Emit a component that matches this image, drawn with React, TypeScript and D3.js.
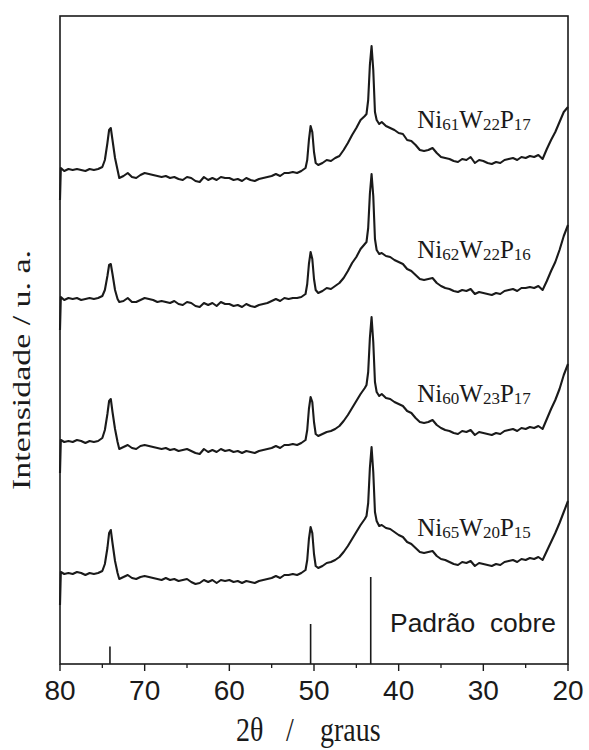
import React from "react";
import * as d3 from "d3";

// 2θ grid (degrees)
const twoTheta = [
  80.0, 79.9, 79.5, 79.0, 78.5, 78.0, 77.5, 77.0, 76.5, 76.0,
  75.5, 75.0, 74.7, 74.4, 74.2, 74.0, 73.8, 73.5, 73.2, 73.0,
  72.5, 72.0, 71.5, 71.0, 70.5, 70.0, 69.5, 69.0, 68.5, 68.0,
  67.5, 67.0, 66.5, 66.0, 65.5, 65.0, 64.5, 64.0, 63.5, 63.0,
  62.5, 62.0, 61.5, 61.0, 60.5, 60.0, 59.5, 59.0, 58.5, 58.0,
  57.5, 57.0, 56.5, 56.0, 55.5, 55.0, 54.5, 54.0, 53.5, 53.0,
  52.5, 52.0, 51.5, 51.0, 50.8, 50.6, 50.4, 50.2, 50.0, 49.8,
  49.5, 49.0, 48.5, 48.0, 47.5, 47.0, 46.5, 46.0, 45.5, 45.0,
  44.5, 44.0, 43.8, 43.6, 43.4, 43.2, 43.0, 42.8, 42.6, 42.3,
  42.0, 41.5, 41.0, 40.5, 40.0, 39.5, 39.0, 38.5, 38.0, 37.5,
  37.0, 36.5, 36.0, 35.5, 35.0, 34.5, 34.0, 33.5, 33.0, 32.5,
  32.0, 31.5, 31.0, 30.5, 30.0, 29.5, 29.0, 28.5, 28.0, 27.5,
  27.0, 26.5, 26.0, 25.5, 25.0, 24.5, 24.0, 23.5, 23.0, 22.5,
  22.0, 21.5, 21.0, 20.5, 20.0,
];

// Intensities (a.u., stacked)
const ni61w22p17 = [
  464, 496, 493, 495, 494, 495, 494, 493, 495, 494,
  495, 497, 504, 521, 534, 536, 524, 506, 494, 486,
  488, 491, 487, 486, 489, 491, 490, 489, 488, 487,
  488, 486, 487, 485, 484, 487, 486, 483, 482, 487,
  484, 486, 484, 487, 486, 486, 484, 485, 483, 486,
  484, 483, 485, 486, 487, 488, 490, 488, 491, 491,
  492, 491, 493, 496, 504, 524, 538, 532, 512, 501,
  499, 501, 504, 503, 506, 508, 514, 521, 529, 536,
  544, 548, 550, 564, 599, 618, 594, 552, 544, 540,
  542, 538, 536, 534, 531, 530, 524, 523, 519, 514,
  513, 514, 516, 511, 507, 506, 505, 503, 502, 505,
  504, 507, 501, 504, 503, 501, 500, 502, 501, 504,
  505, 506, 504, 507, 506, 508, 507, 509, 505, 515,
  524, 532, 542, 552, 557,
];

const ni62w22p16 = [
  334, 367, 364, 366, 365, 366, 364, 365, 366, 365,
  366, 368, 374, 388, 399, 400, 390, 374, 365, 362,
  363, 366, 362, 362, 364, 366, 365, 364, 362, 363,
  362, 361, 363, 360, 359, 362, 361, 358, 357, 361,
  359, 361, 358, 362, 360, 360, 358, 359, 357, 360,
  358, 357, 359, 360, 361, 363, 365, 363, 366, 365,
  366, 366, 367, 370, 380, 400, 412, 405, 385, 374,
  371, 373, 376, 375, 378, 381, 386, 393, 401, 407,
  415, 420, 422, 436, 470, 490, 468, 425, 414, 410,
  411, 408, 407, 404, 402, 400, 395, 393, 389, 385,
  384, 385, 386, 381, 378, 376, 375, 373, 372, 374,
  373, 375, 370, 372, 371, 370, 369, 371, 370, 373,
  374, 375, 373, 376, 376, 377, 376, 378, 374, 383,
  393, 402, 414, 428, 439,
];

const ni60w23p17 = [
  191, 224, 222, 223, 222, 224, 223, 221, 223, 222,
  223, 226, 234, 250, 263, 265, 252, 235, 222, 215,
  217, 219, 216, 215, 218, 219, 218, 217, 216, 215,
  216, 214, 215, 213, 214, 215, 213, 211, 210, 215,
  212, 214, 212, 215, 213, 214, 212, 213, 211, 213,
  212, 211, 213, 214, 215, 216, 218, 216, 219, 219,
  220, 219, 221, 224, 234, 255, 267, 262, 242, 230,
  228, 230, 232, 233, 235, 238, 243, 249, 256, 263,
  270, 276, 279, 292, 326, 347, 322, 282, 272, 268,
  270, 266, 265, 262, 260, 258, 253, 251, 246, 242,
  241, 242, 244, 239, 236, 234, 233, 231, 230, 233,
  232, 234, 229, 232, 231, 230, 229, 231, 230, 233,
  234, 235, 233, 236, 235, 237, 236, 238, 235, 245,
  255, 264, 275, 289, 300,
];

const ni65w20p15 = [
  59, 92, 90, 91, 90, 92, 91, 89, 91, 90,
  91, 93, 100, 116, 131, 134, 121, 103, 91, 85,
  87, 89, 86, 85, 87, 88, 87, 86, 85, 84,
  86, 84, 85, 83, 84, 85, 82, 80, 81, 84,
  82, 84, 81, 84, 83, 84, 82, 83, 81, 83,
  82, 81, 83, 84, 85, 86, 88, 86, 89, 89,
  90, 89, 91, 94, 104, 125, 137, 131, 110, 98,
  96, 98, 101, 102, 104, 107, 112, 118, 125, 132,
  139, 145, 148, 161, 196, 217, 192, 152, 143, 138,
  139, 136, 135, 132, 129, 127, 122, 120, 116, 112,
  111, 112, 113, 108, 105, 104, 102, 100, 99, 102,
  101, 103, 98, 101, 100, 99, 98, 100, 99, 102,
  103, 104, 102, 105, 104, 106, 105, 107, 104, 113,
  122, 131, 141, 152, 163,
];

// Copper standard reflections
const copperTheta = [43.3, 50.4, 74.1];
const copperIntensity = [100, 46, 20];

// Series labels: [element, subscript] parts
const seriesNames = [
  [["Ni", "61"], ["W", "22"], ["P", "17"]],
  [["Ni", "62"], ["W", "22"], ["P", "16"]],
  [["Ni", "60"], ["W", "23"], ["P", "17"]],
  [["Ni", "65"], ["W", "20"], ["P", "15"]],
];
const seriesValues = [ni61w22p17, ni62w22p16, ni60w23p17, ni65w20p15];
// label anchor in data units (2θ, intensity)
const labelTheta = 37.8;
const labelIntensity = [536, 406, 262.5, 128];

const majorTicks = [80, 70, 60, 50, 40, 30, 20];
const minorTicks = [75, 65, 55, 45, 35, 25];

const W = 589;
const H = 750;
const plotLeft = 60;
const plotRight = 568;
const plotTop = 16;
const plotBottom = 664;

const serif = "'Liberation Serif', 'Times New Roman', Times, serif";
const sans = "'Liberation Sans', Arial, Helvetica, sans-serif";

export default function App() {
  const x = d3.scaleLinear().domain([80, 20]).range([plotLeft, plotRight]);
  const y = d3.scaleLinear().domain([0, 650]).range([plotBottom, plotBottom - 650]);
  const yStick = d3.scaleLinear().domain([0, 100]).range([plotBottom, plotBottom - 87]);

  const line = d3
    .line<number>()
    .x((_, i) => x(twoTheta[i]))
    .y((d) => y(d));

  return (
    <svg
      width={W}
      height={H}
      style={{ position: "absolute", left: 0, top: 0, background: "#fff" }}
    >
      <rect x={0} y={0} width={W} height={H} fill="#fff" />
      {/* frame */}
      <rect
        x={plotLeft}
        y={plotTop}
        width={plotRight - plotLeft}
        height={plotBottom - plotTop}
        fill="none"
        stroke="#1a1a1a"
        strokeWidth={1.6}
      />
      {/* ticks */}
      {majorTicks.map((t) => (
        <g key={"M" + t}>
          <line x1={x(t)} x2={x(t)} y1={plotBottom} y2={plotBottom + 7} stroke="#1a1a1a" strokeWidth={1.4} />
          <text
            x={x(t)}
            y={700}
            textAnchor="middle"
            fontFamily={sans}
            fontSize={28}
            fill="#1a1a1a"
          >
            {t}
          </text>
        </g>
      ))}
      {minorTicks.map((t) => (
        <line key={"m" + t} x1={x(t)} x2={x(t)} y1={plotBottom} y2={plotBottom + 4} stroke="#1a1a1a" strokeWidth={1.3} />
      ))}
      {/* copper standard sticks */}
      {copperTheta.map((t, i) => (
        <line
          key={"cu" + i}
          x1={x(t)}
          x2={x(t)}
          y1={yStick(0)}
          y2={yStick(copperIntensity[i])}
          stroke="#1a1a1a"
          strokeWidth={1.6}
        />
      ))}
      <text
        x={390}
        y={632}
        fontFamily={sans}
        fontSize={25}
        fill="#1a1a1a"
        textLength={166}
        lengthAdjust="spacingAndGlyphs"
        style={{ whiteSpace: "pre" }}
      >
        {"Padrão  cobre"}
      </text>
      {/* patterns */}
      {seriesValues.map((vals, i) => (
        <path
          key={"s" + i}
          d={line(vals) || ""}
          fill="none"
          stroke="#1a1a1a"
          strokeWidth={2.1}
          strokeLinejoin="round"
        />
      ))}
      {/* labels */}
      {seriesNames.map((parts, i) => (
        <text
          key={"l" + i}
          x={x(labelTheta)}
          y={y(labelIntensity[i])}
          fontFamily={serif}
          fontSize={25}
          fill="#1a1a1a"
        >
          {parts.map(([el, sub], j) => (
            <React.Fragment key={j}>
              <tspan dy={j === 0 ? 0 : -2}>{el}</tspan>
              <tspan fontSize={17} dy={2}>
                {sub}
              </tspan>
            </React.Fragment>
          ))}
        </text>
      ))}
      {/* axis titles */}
      <g transform="translate(0,741) scale(1,1.2)">
        <text fontFamily={serif} fontSize={28} fill="#1a1a1a" y={0}>
          <tspan x={236}>2θ</tspan>
          <tspan x={286}>/</tspan>
          <tspan x={320}>graus</tspan>
        </text>
      </g>
      <text
        transform="translate(30,370) rotate(-90)"
        textAnchor="middle"
        fontFamily={serif}
        fontSize={26}
        fill="#1a1a1a"
        textLength={240}
        lengthAdjust="spacingAndGlyphs"
      >
        Intensidade / u. a.
      </text>
    </svg>
  );
}
